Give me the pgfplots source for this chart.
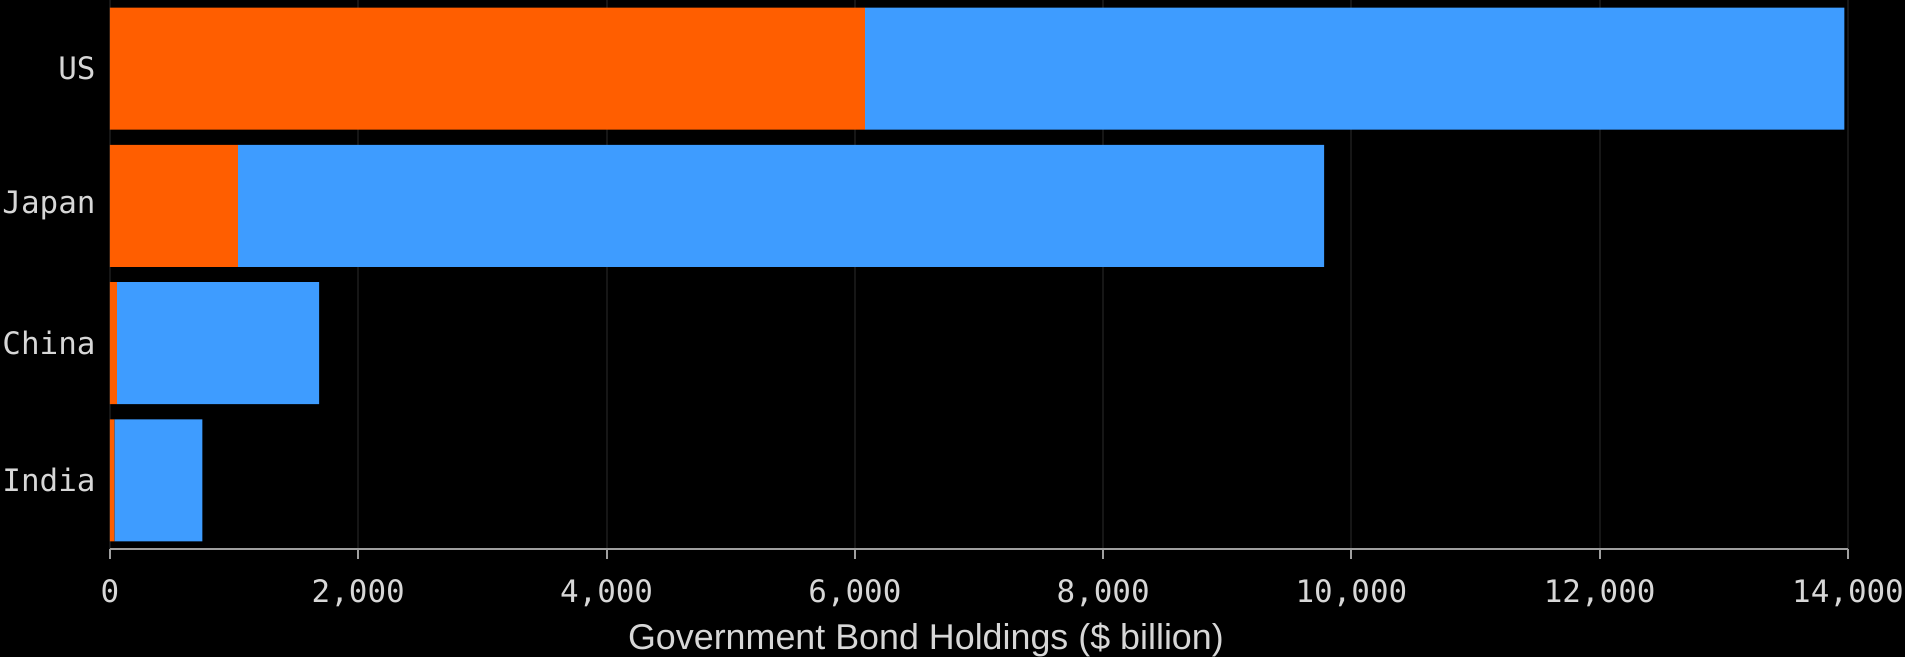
\documentclass[border=0pt]{standalone}
\usepackage{pgfplots}
\pgfplotsset{compat=1.18}
\usepackage{fontspec}
\setmainfont{Liberation Sans}
\newfontfamily\monofont{DejaVu Sans Mono}
\usetikzlibrary{backgrounds}
\definecolor{bgorange}{RGB}{255,94,0}
\definecolor{bgblue}{RGB}{62,156,255}
\definecolor{labgray}{RGB}{215,215,215}
\definecolor{gridgray}{RGB}{22,22,22}
\begin{document}
\begin{tikzpicture}
\begin{axis}[
  name=ax,
  scale only axis,
  width=17.38cm, height=5.49cm,
  xbar stacked,
  bar width=1.22cm,
  xmin=0, xmax=14000,
  ymin=-0.5, ymax=3.5,
  y dir=reverse,
  ytick={0,1,2,3},
  yticklabels={US,Japan,China,India},
  xtick={0,2000,4000,6000,8000,10000,12000,14000},
  /pgf/number format/1000 sep={,},
  /pgf/number format/assume math mode=true,
  scaled x ticks=false,
  axis x line*=bottom,
  axis y line*=left,
  y axis line style={draw=none},
  x axis line style={draw=gray!75, line width=0.8pt, -},
  ytick style={draw=none},
  xtick style={draw=gray!75, line width=0.6pt},
  tick align=outside,
  major tick length=0.1cm,
  xmajorgrids,
  major grid style={draw=gridgray, line width=0.6pt},
  ticklabel style={font=\monofont\fontsize{8.8}{10}\selectfont, text=labgray},
  xticklabel style={yshift=-0.08cm},
  yticklabel style={xshift=0.08cm},
  xlabel={Government Bond Holdings (\$ billion)},
  xlabel style={font=\fontsize{10.2}{12}\selectfont, text=labgray, yshift=0.08cm, xshift=-0.53cm},
]
\addplot[fill=bgorange, draw=none] coordinates {(6080,0) (1030,1) (55,2) (35,3)};
\addplot[fill=bgblue, draw=none] coordinates {(7890,0) (8750,1) (1630,2) (710,3)};
\end{axis}
\begin{scope}[on background layer]
\fill[black] ([xshift=-1.10cm,yshift=-1.08cm]ax.south west) rectangle ([xshift=17.95cm]ax.north west);
\end{scope}
\pgfresetboundingbox
\path[use as bounding box] ([xshift=-1.10cm,yshift=-1.08cm]ax.south west) rectangle ([xshift=17.95cm]ax.north west);
\end{tikzpicture}
\end{document}
